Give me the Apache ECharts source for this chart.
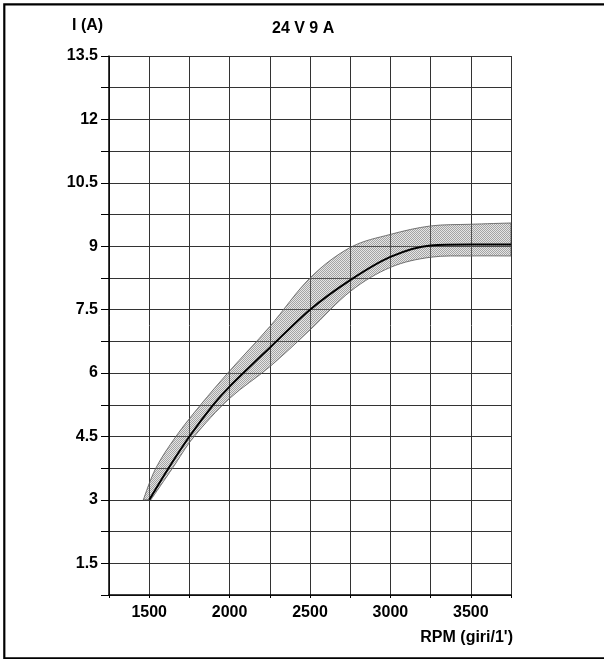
<!DOCTYPE html>
<html>
<head>
<meta charset="utf-8">
<script src="https://cdn.jsdelivr.net/npm/echarts@6/dist/echarts.min.js"></script>
<style>
html,body{margin:0;padding:0;background:#fff;}
#chart{width:604px;height:659px;}
</style>
</head>
<body>
<div id="chart"></div>
<script>
// ---- data ----
var rpmCenter = [1500, 1620, 1750, 1898, 2000, 2250, 2500, 2750, 3000, 3250, 3500, 3750];
var ampCenter = [3, 3.75, 4.5, 5.25, 5.68, 6.6, 7.5, 8.2, 8.75, 9.02, 9.04, 9.04];

var rpmUpper = [1463, 1541, 1666, 1820, 2000, 2250, 2500, 2750, 3000, 3250, 3500, 3750];
var ampUpper = [3, 3.75, 4.5, 5.25, 6.05, 7.1, 8.25, 8.97, 9.28, 9.48, 9.52, 9.55];

var rpmLower = [1510, 1645, 1780, 2000, 2250, 2500, 2750, 3000, 3250, 3500, 3750];
var ampLower = [3, 3.75, 4.5, 5.4, 6.15, 7.02, 7.93, 8.5, 8.74, 8.77, 8.77];

var xTickLabels = [1500, 2000, 2500, 3000, 3500];
var yTickLabels = [1.5, 3, 4.5, 6, 7.5, 9, 10.5, 12, 13.5];

var titleText = '24 V 9 A';
var yName = 'I (A)';
var xName = "RPM (giri/1')";

// ---- build ----
function zip(a, b) { return a.map(function (v, i) { return [v, b[i]]; }); }
var centerData = zip(rpmCenter, ampCenter);
var upperData = zip(rpmUpper, ampUpper);
var lowerData = zip(rpmLower, ampLower);

function isLabeled(list, v) {
  for (var i = 0; i < list.length; i++) if (Math.abs(list[i] - v) < 1e-6) return true;
  return false;
}

// stipple pattern for the tolerance band
var pat = document.createElement('canvas');
pat.width = 2; pat.height = 2;
var pctx = pat.getContext('2d');
pctx.fillStyle = 'rgba(90,90,90,0.55)';
pctx.fillRect(0, 0, 1, 1); pctx.fillRect(1, 1, 1, 1);
pctx.fillStyle = 'rgba(170,170,170,0.30)';
pctx.fillRect(1, 0, 1, 1); pctx.fillRect(0, 1, 1, 1);

// Catmull-Rom -> cubic bezier path through pixel points (rendering only)
function splinePath(pts, moveFirst) {
  var d = moveFirst ? 'M' + pts[0][0] + ',' + pts[0][1] : 'L' + pts[0][0] + ',' + pts[0][1];
  for (var i = 0; i < pts.length - 1; i++) {
    var p0 = pts[Math.max(i - 1, 0)], p1 = pts[i], p2 = pts[i + 1], p3 = pts[Math.min(i + 2, pts.length - 1)];
    var c1x = p1[0] + (p2[0] - p0[0]) / 6, c1y = p1[1] + (p2[1] - p0[1]) / 6;
    var c2x = p2[0] - (p3[0] - p1[0]) / 6, c2y = p2[1] - (p3[1] - p1[1]) / 6;
    d += ' C' + c1x + ',' + c1y + ' ' + c2x + ',' + c2y + ' ' + p2[0] + ',' + p2[1];
  }
  return d;
}

var font = "'Liberation Sans', Arial, sans-serif";
var chart = echarts.init(document.getElementById('chart'), null, {renderer: 'canvas'});

chart.setOption({
  animation: false,
  backgroundColor: '#ffffff',
  grid: {left: 109, right: 93, top: 56, bottom: 64, containLabel: false},
  xAxis: {
    type: 'value', min: 1250, max: 3750, interval: 250,
    axisLine: {show: true, lineStyle: {color: '#000', width: 1.5}},
    axisTick: {show: true, length: 3, lineStyle: {color: '#000'},
      interval: function (i, v) { return isLabeled(xTickLabels, v); }},
    axisLabel: {
      margin: 10, color: '#000', fontSize: 16, fontWeight: 'bold', fontFamily: font,
      formatter: function (v) { return isLabeled(xTickLabels, v) ? String(v) : ''; },
      showMinLabel: true, showMaxLabel: true
    },
    splitLine: {show: true, lineStyle: {color: '#333', width: 1}}
  },
  yAxis: {
    type: 'value', min: 0.75, max: 13.5, interval: 0.75,
    axisLine: {show: true, lineStyle: {color: '#000', width: 1.5}},
    axisTick: {show: true, length: 8, lineStyle: {color: '#000'},
      interval: function (i, v) { return isLabeled(yTickLabels, v); }},
    axisLabel: {
      margin: 11, color: '#000', fontSize: 16, fontWeight: 'bold', fontFamily: font,
      formatter: function (v) { return isLabeled(yTickLabels, v) ? String(v) : ''; }
    },
    splitLine: {show: true, lineStyle: {color: '#333', width: 1}}
  },
  graphic: [
    {type: 'rect', silent: true, z: 100,
      shape: {x: 4.3, y: 4.3, width: 700, height: 654},
      style: {fill: 'none', stroke: '#000', lineWidth: 2.2}},
    {type: 'text', left: 72, top: 18, z: 100,
      style: {text: yName, fill: '#000', font: 'bold 16px ' + font}},
    {type: 'text', left: 272, top: 21, z: 100,
      style: {text: titleText, fill: '#000', font: 'bold 16px ' + font}},
    {type: 'text', right: 91, top: 630, z: 100,
      style: {text: xName, fill: '#000', font: 'bold 16px ' + font}}
  ],
  series: [
    {
      type: 'custom',
      clip: true,
      data: [[0, 0]],
      z: 2,
      renderItem: function (params, api) {
        var up = upperData.map(function (p) { return api.coord(p); });
        var low = lowerData.map(function (p) { return api.coord(p); }).reverse();
        var d = splinePath(up, true) + ' ' + splinePath(low, false) + ' Z';
        return {
          type: 'path',
          shape: {pathData: d},
          style: {fill: {image: pat, repeat: 'repeat'}, stroke: '#555', lineWidth: 0.8}
        };
      }
    },
    {
      type: 'line',
      data: centerData,
      smooth: 0.3,
      symbol: 'none',
      z: 3,
      lineStyle: {color: '#000', width: 2}
    }
  ]
});
</script>
</body>
</html>
